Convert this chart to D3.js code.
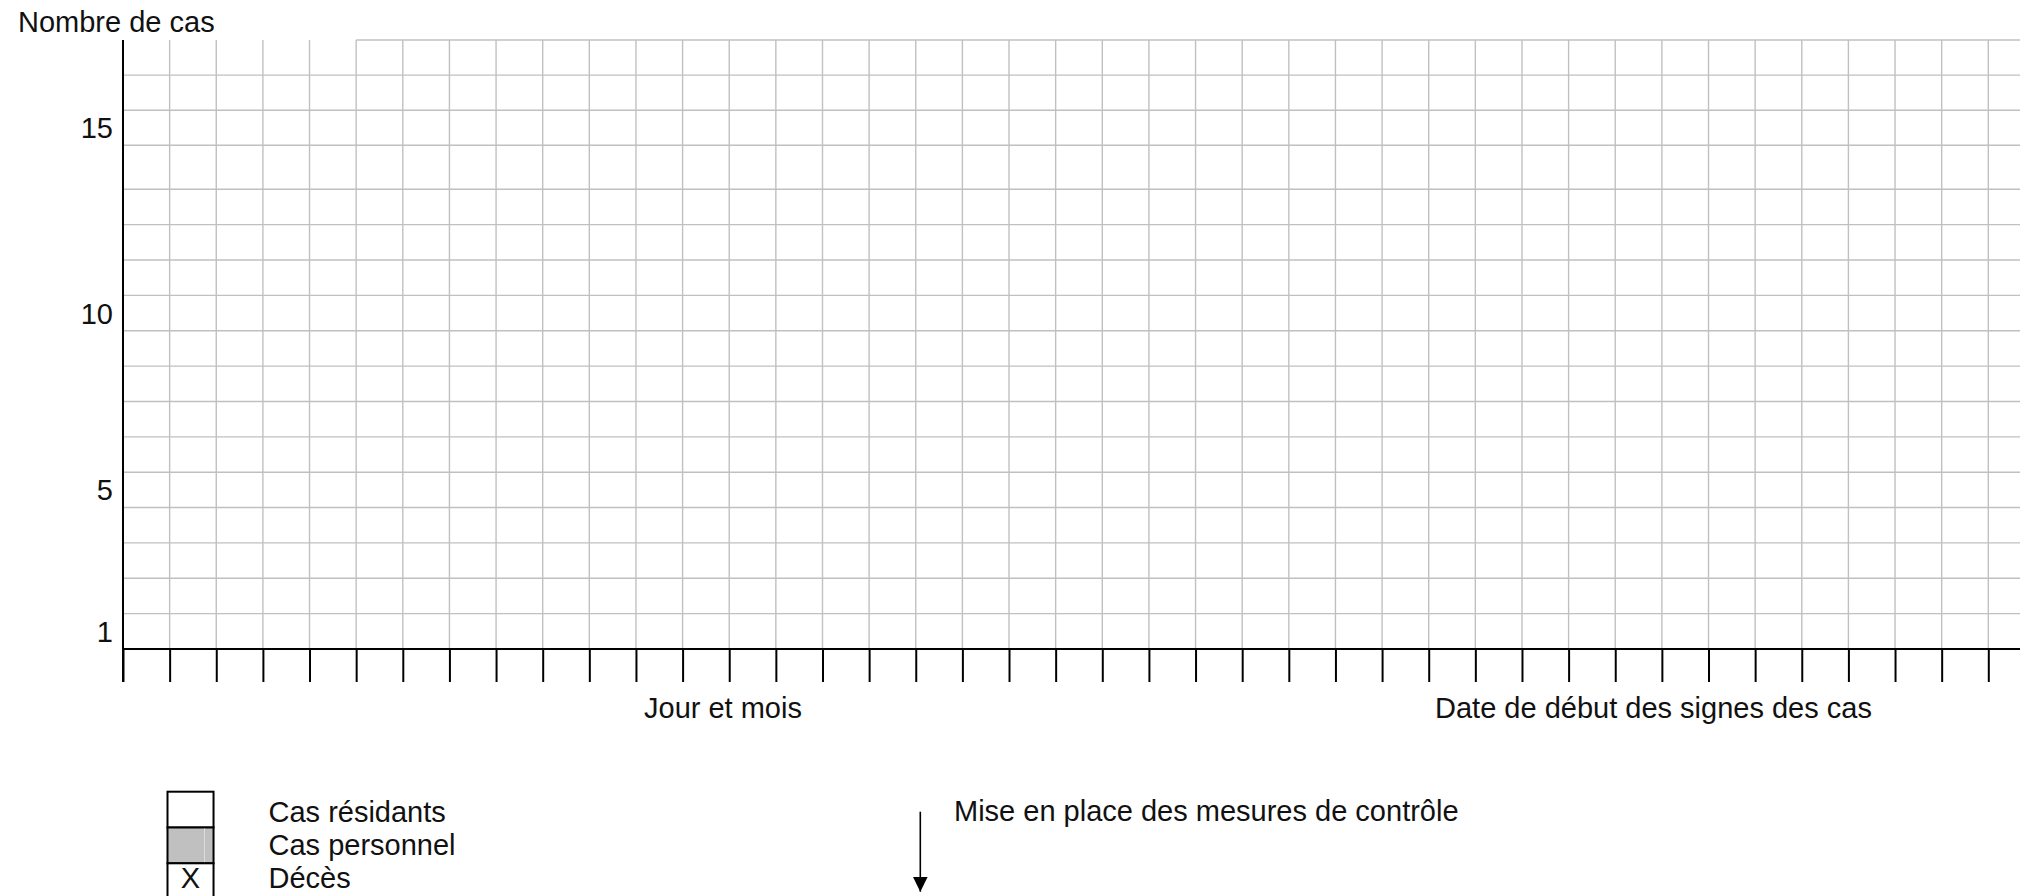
<!DOCTYPE html>
<html>
<head>
<meta charset="utf-8">
<script src="https://cdn.jsdelivr.net/npm/d3@7"></script>
<style>
  html, body { margin: 0; padding: 0; background: #fff; }
  svg { display: block; }
  text { font-family: "Liberation Sans", Arial, sans-serif; font-size: 29px; fill: #111; }
</style>
</head>
<body>
<svg id="chart" width="2020" height="896"></svg>
<script>

var yLabels = [1, 5, 10, 15];
var nRows = 17;
var nDays = 40;
var topFrameFrom = 5;
var yTitle = "Nombre de cas";
var xTitle = "Jour et mois";
var xNote = "Date de début des signes des cas";
var legendItems = ["Cas résidants", "Cas personnel", "Décès"];
var legendFills = ["#fff", "#c0c0c0", "#fff"];
var legendMarks = ["", "", "X"];
var arrowNote = "Mise en place des mesures de contrôle";

var W = 2020, H = 896;
var svg = d3.select("svg#chart");

var x = d3.scaleLinear().domain([0, nDays]).range([123, 1988.3]);
// row 14 is drawn taller in the original form
var y = d3.scaleLinear().domain([0, 13, 14, nRows]).range([649, 189.3, 145.3, 40]);

var colW = x(1) - x(0);

var grid = svg.append("g").attr("class", "grid");

// horizontal grid lines
grid.selectAll(".hline")
  .data(d3.range(1, nRows))
  .enter().append("line")
  .attr("class", "hline")
  .attr("x1", x(0)).attr("x2", W)
  .attr("y1", function(d) { return y(d); })
  .attr("y2", function(d) { return y(d); })
  .attr("stroke", "#c0c0c0").attr("stroke-width", 1.4);

// top frame line, only from column 5
grid.append("line")
  .attr("x1", x(topFrameFrom)).attr("x2", W)
  .attr("y1", y(nRows)).attr("y2", y(nRows))
  .attr("stroke", "#c0c0c0").attr("stroke-width", 1.4);

// vertical grid lines
grid.selectAll(".vline")
  .data(d3.range(1, nDays + 1))
  .enter().append("line")
  .attr("class", "vline")
  .attr("x1", function(d) { return x(d); })
  .attr("x2", function(d) { return x(d); })
  .attr("y1", y(nRows)).attr("y2", y(0))
  .attr("stroke", "#c0c0c0").attr("stroke-width", 1.4);

// x axis: ticks under every day column
var xAxis = svg.append("g")
  .attr("transform", "translate(0," + y(0) + ")")
  .call(d3.axisBottom(x).tickValues(d3.range(0, nDays + 1)).tickSize(33).tickSizeOuter(0).tickFormat(""));
xAxis.select(".domain").remove();
xAxis.selectAll(".tick line").attr("stroke", "#000").attr("stroke-width", 2);

svg.append("line")
  .attr("x1", x(0)).attr("x2", W)
  .attr("y1", y(0)).attr("y2", y(0))
  .attr("stroke", "#000").attr("stroke-width", 2);

// y axis
svg.append("line")
  .attr("x1", x(0)).attr("x2", x(0))
  .attr("y1", y(nRows)).attr("y2", y(0) + 33)
  .attr("stroke", "#000").attr("stroke-width", 2);

svg.selectAll(".ylab")
  .data(yLabels)
  .enter().append("text")
  .attr("class", "ylab")
  .attr("x", x(0) - 10)
  .attr("y", function(d) { return (y(d) + y(d - 1)) / 2; })
  .attr("dy", "0.36em")
  .attr("text-anchor", "end")
  .text(function(d) { return d; });

// titles
svg.append("text").attr("x", 18).attr("y", 32).text(yTitle);
svg.append("text").attr("x", 644).attr("y", 718).text(xTitle);
svg.append("text").attr("x", 1435).attr("y", 718).text(xNote);

// legend
var lg = svg.append("g").attr("transform", "translate(167.5,791.7)");
var lh = 35.8;

var item = lg.selectAll(".item")
  .data(legendItems)
  .enter().append("g")
  .attr("class", "item")
  .attr("transform", function(d, i) { return "translate(0," + (i * lh) + ")"; });

item.append("rect")
  .attr("width", colW - 0.6).attr("height", lh)
  .attr("fill", function(d, i) { return legendFills[i]; })
  .attr("stroke", "#000").attr("stroke-width", 2);

item.filter(function(d, i) { return i == 1; })
  .append("line")
  .attr("x1", 37).attr("x2", 37).attr("y1", 1).attr("y2", lh - 1)
  .attr("stroke", "#dcdcdc").attr("stroke-width", 1);

item.append("text")
  .attr("x", (colW - 0.6) / 2)
  .attr("y", function(d, i) { return 30 - i * 2.8; })
  .attr("text-anchor", "middle")
  .text(function(d, i) { return legendMarks[i]; });

item.append("text")
  .attr("x", 101)
  .attr("y", function(d, i) { return 30 - i * 2.8; })
  .text(function(d) { return d; });

// arrow for control measures
svg.append("defs").append("marker")
  .attr("id", "head")
  .attr("viewBox", "0 0 10 10")
  .attr("refX", 10).attr("refY", 5)
  .attr("markerUnits", "userSpaceOnUse")
  .attr("markerWidth", 15).attr("markerHeight", 15)
  .attr("orient", "auto")
  .append("path").attr("d", "M0,0L10,5L0,10Z").attr("fill", "#000");

svg.append("line")
  .attr("x1", 920.3).attr("x2", 920.3)
  .attr("y1", 811.7).attr("y2", 891.7)
  .attr("stroke", "#000").attr("stroke-width", 1.6)
  .attr("marker-end", "url(#head)");

svg.append("text").attr("x", 954).attr("y", 821).text(arrowNote);

</script>
</body>
</html>
